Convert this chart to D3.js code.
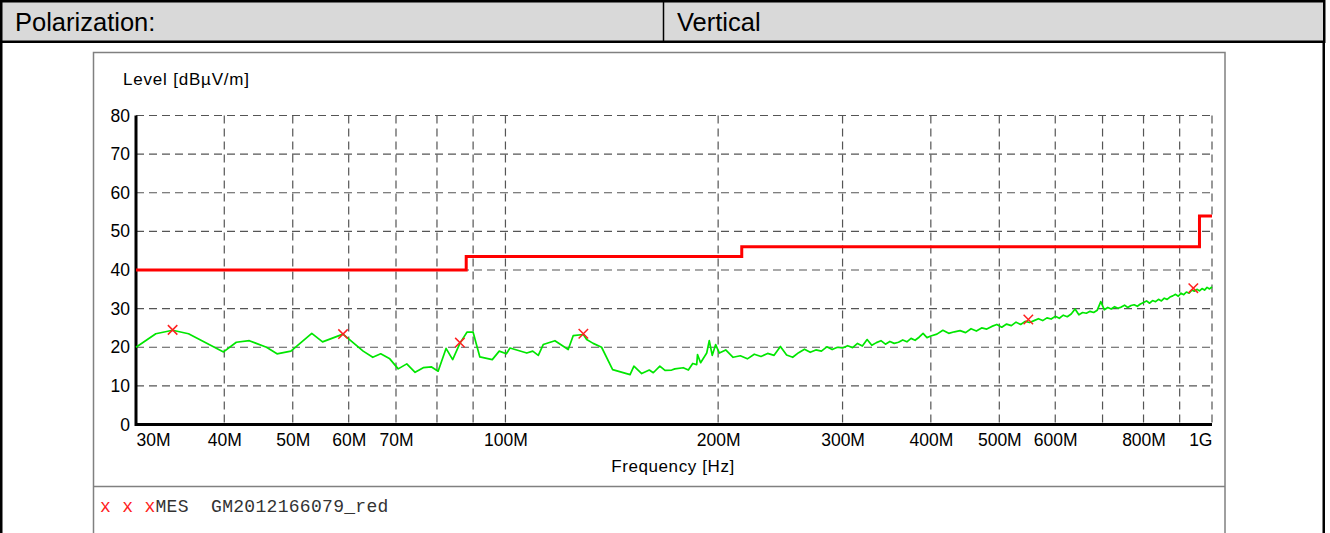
<!DOCTYPE html>
<html>
<head>
<meta charset="utf-8">
<script src="https://cdn.jsdelivr.net/npm/d3@7"></script>
<style>
  body { margin: 0; background: #fff; }
  svg { display: block; font-family: Arial, "Liberation Sans", sans-serif; }
</style>
</head>
<body>
<div id="chart"></div>
<script>
// header table
const headerLabel = "Polarization:";
const headerValue = "Vertical";

// trace (MHz / dBµV/m)
const lowMHz = [30, 32, 33.8, 35.6, 39.9, 41.6, 43.4, 45.9, 47.5, 49.7, 53.2, 55.1, 58.9, 62.9, 64.9,
  66.6, 68.6, 70.5, 72.5, 74.5, 76.5, 78.6, 80.3, 82.4, 84.2, 86.2, 88.2, 90.0, 92.0, 95.8,
  98.0, 100.3, 101.5, 107.2, 109.3, 111.3, 113.1, 117.5, 122.7, 124.7, 128.9, 130.3, 133.1, 136.8, 141.8,
  150.1, 152.0, 155.9, 159.8, 161.9, 165.4, 168.2, 171.9, 173.7, 178.5, 181.5, 184.1, 186.5, 187.0, 188.9,
  192.7, 194.3, 196.2, 198.4];
const lowDb = [20.0, 23.5, 24.4, 23.5, 18.8, 21.3, 21.7, 20.0, 18.3, 19.0, 23.6, 21.4, 23.4, 19.0, 17.4,
  18.3, 17.0, 14.4, 15.7, 13.5, 14.7, 14.9, 13.8, 19.7, 16.8, 21.0, 23.9, 23.9, 17.5, 16.8,
  19.0, 18.3, 19.8, 18.5, 19.0, 17.9, 20.7, 21.7, 19.4, 23.0, 23.3, 22.0, 21.0, 20.0, 14.2,
  12.9, 15.1, 13.2, 14.1, 13.4, 15.1, 14.0, 14.1, 14.4, 14.7, 14.1, 15.8, 15.5, 18.1, 16.0,
  18.5, 21.7, 17.9, 20.7];
const midMHz = [200.8, 205, 210, 215, 220, 225, 230, 235, 240, 245, 250, 255, 260, 265, 270, 275, 280, 285,
  290, 295, 300, 305, 310, 315, 320, 325, 330, 335, 340, 345, 350, 355, 360, 365, 370, 375, 380, 385,
  390, 395, 400];
const midDb = [18.5, 19.3, 17.4, 17.8, 17.0, 18.2, 17.6, 18.4, 17.9, 20.2, 18.0, 17.4, 18.6, 19.5, 18.7,
  19.3, 19.0, 20.1, 19.4, 20.0, 19.8, 20.4, 19.9, 21.0, 20.3, 22.0, 20.5, 21.2, 21.7, 20.8,
  21.5, 21.0, 21.3, 21.9, 21.4, 22.3, 21.8, 22.6, 23.6, 22.5, 22.9];
const highMHz = [408, 416, 424, 432, 440, 448, 456, 464, 472, 480, 488, 496, 504, 512, 520, 528, 536, 544,
  552, 560, 568, 576, 584, 592, 600, 608, 616, 624, 632, 640, 648, 656, 664, 672, 680, 688, 696, 704,
  712, 720, 728, 736, 744, 752, 760, 768, 776, 784, 792, 800, 808, 816, 824, 832, 840, 848, 856, 864,
  872, 880, 888, 896, 904, 912, 920, 928, 936, 944, 952, 960, 968, 976, 984, 992, 1000];
const highDb = [23.4, 24.4, 23.6, 24.0, 24.3, 23.8, 24.8, 24.2, 25.0, 24.7, 25.4, 25.9, 25.2, 26.0, 25.6,
  26.5, 25.9, 26.7, 26.4, 26.9, 27.4, 26.9, 27.6, 27.3, 28.0, 27.5, 28.3, 27.9, 28.6, 29.9,
  28.4, 29.0, 28.8, 29.3, 29.0, 29.6, 31.8, 29.7, 30.3, 29.9, 30.5, 30.1, 30.4, 30.9, 30.3,
  30.8, 31.0, 30.6, 31.2, 31.6, 32.0, 31.4, 32.1, 31.8, 32.4, 32.0, 32.7, 32.4, 33.0, 33.3,
  33.7, 33.2, 34.0, 33.6, 34.3, 34.0, 34.8, 34.5, 35.0, 34.6, 35.2, 34.8, 35.5, 35.1, 35.6];

// limit line (steps) and final measurement points
const limitMHz = [30, 88, 216, 960, 1000];
const limitDb = [40, 43.5, 46, 54, 54];
const mesMHz = [33.8, 58.9, 86.2, 128.9, 549.6, 940.9];
const mesDb = [24.5, 23.4, 21.2, 23.5, 27.2, 35.3];

// axes
const yTicks = [0, 10, 20, 30, 40, 50, 60, 70, 80];
const xGrid = [40, 50, 60, 70, 80, 90, 100, 200, 300, 400, 500, 600, 700, 800, 900, 1000];
const xLabelMHz = [30, 40, 50, 60, 70, 100, 200, 300, 400, 500, 600, 800, 1000];
const xLabelText = ["30M", "40M", "50M", "60M", "70M", "100M", "200M", "300M", "400M", "500M", "600M", "800M", "1G"];

const W = 1330, H = 533;
const plot = { left: 136, right: 1212, top: 115.5, bottom: 424.5 };

const svg = d3.select("#chart").append("svg")
  .attr("width", W)
  .attr("height", H);

// table header row
svg.append("rect")
  .attr("x", 1.25).attr("y", 1.25)
  .attr("width", 1323).attr("height", 40.5)
  .attr("fill", "#d9d9d9")
  .attr("stroke", "#000").attr("stroke-width", 2.5);
svg.append("line")
  .attr("x1", 663.5).attr("x2", 663.5).attr("y1", 1).attr("y2", 42)
  .attr("stroke", "#000").attr("stroke-width", 1.5);
svg.append("text").attr("x", 15).attr("y", 31)
  .style("font-size", "25.5px").text(headerLabel);
svg.append("text").attr("x", 677).attr("y", 31)
  .style("font-size", "25.5px").text(headerValue);
// table side borders
[1.25, 1323.75].forEach(x => {
  svg.append("line")
    .attr("x1", x).attr("x2", x).attr("y1", 42).attr("y2", H)
    .attr("stroke", "#000").attr("stroke-width", 2.5);
});

// chart frame
svg.append("rect")
  .attr("x", 93.5).attr("y", 52.5)
  .attr("width", 1131.5).attr("height", 600)
  .attr("fill", "#fff")
  .attr("stroke", "#808080").attr("stroke-width", 1.5);
svg.append("line")
  .attr("x1", 93.5).attr("x2", 1225).attr("y1", 486.5).attr("y2", 486.5)
  .attr("stroke", "#808080").attr("stroke-width", 1.5);

const x = d3.scaleLog().domain([30, 1000]).range([plot.left, plot.right]);
const y = d3.scaleLinear().domain([0, 80]).range([plot.bottom, plot.top]);

// grid
const grid = svg.append("g")
  .attr("stroke", "#555").attr("stroke-width", 1.2).attr("stroke-dasharray", "8,5");
grid.selectAll(".vg").data(xGrid).join("line")
  .attr("x1", d => x(d)).attr("x2", d => x(d))
  .attr("y1", y(80)).attr("y2", y(0));
grid.selectAll(".hg").data(yTicks.filter(d => d > 0)).join("line")
  .attr("x1", x(30)).attr("x2", x(1000))
  .attr("y1", d => y(d)).attr("y2", d => y(d));

// y axis labels
const yAxis = svg.append("g")
  .attr("transform", `translate(${plot.left},0)`)
  .call(d3.axisLeft(y).tickValues(yTicks).tickSize(0).tickPadding(6));
yAxis.select(".domain").remove();
yAxis.selectAll("text")
  .style("font-size", "17.5px").style("font-family", "Arial, 'Liberation Sans', sans-serif")
  .attr("fill", "#000");

// x axis labels
const xAxis = svg.append("g")
  .attr("transform", `translate(0,${plot.bottom})`)
  .call(d3.axisBottom(x).tickValues(xLabelMHz).tickSize(0).tickPadding(9)
    .tickFormat((d, i) => xLabelText[i]));
xAxis.select(".domain").remove();
xAxis.selectAll("text")
  .style("font-size", "17.5px").style("font-family", "Arial, 'Liberation Sans', sans-serif")
  .attr("fill", "#000")
  .attr("text-anchor", (d, i) => i === 0 ? "start" : (i === xLabelMHz.length - 1 ? "end" : "middle"));

// axis lines
svg.append("line")
  .attr("x1", plot.left).attr("x2", plot.left).attr("y1", y(80)).attr("y2", y(0) + 1.5)
  .attr("stroke", "#000").attr("stroke-width", 3);
svg.append("line")
  .attr("x1", plot.left).attr("x2", plot.right).attr("y1", y(0)).attr("y2", y(0))
  .attr("stroke", "#000").attr("stroke-width", 3);

// axis titles
svg.append("text").attr("x", 123).attr("y", 85)
  .style("font-size", "17px").style("letter-spacing", "0.8px")
  .text("Level [dBµV/m]");
svg.append("text").attr("x", 673).attr("y", 472)
  .attr("text-anchor", "middle")
  .style("font-size", "17px").style("letter-spacing", "0.6px")
  .text("Frequency [Hz]");

// limit line
const limit = d3.zip(limitMHz, limitDb);
svg.append("path")
  .datum(limit)
  .attr("fill", "none")
  .attr("stroke", "#ff0000").attr("stroke-width", 3)
  .attr("d", d3.line().x(d => x(d[0])).y(d => y(d[1])).curve(d3.curveStepAfter));

// measured trace
const trace = d3.zip(lowMHz.concat(midMHz, highMHz), lowDb.concat(midDb, highDb));
svg.append("path")
  .datum(trace)
  .attr("fill", "none")
  .attr("stroke", "#00e600").attr("stroke-width", 1.7)
  .attr("stroke-linejoin", "round")
  .attr("d", d3.line().x(d => x(d[0])).y(d => y(d[1])));

// final measurement markers
svg.selectAll(".mes").data(d3.zip(mesMHz, mesDb)).join("path")
  .attr("transform", d => `translate(${x(d[0])},${y(d[1])})`)
  .attr("d", d3.symbol(d3.symbolX, 60))
  .attr("fill", "none")
  .attr("stroke", "#ff2020").attr("stroke-width", 1.5);

// legend
const legend = svg.append("text")
  .attr("x", 100).attr("y", 512)
  .style("white-space", "pre")
  .style("font-family", "'Courier New', 'Liberation Mono', monospace")
  .style("font-size", "18px").style("letter-spacing", "0.3px");
legend.append("tspan").attr("fill", "#ff2020").text("x x x");
legend.append("tspan").attr("fill", "#333").text("MES  GM2012166079_red");
</script>
</body>
</html>
